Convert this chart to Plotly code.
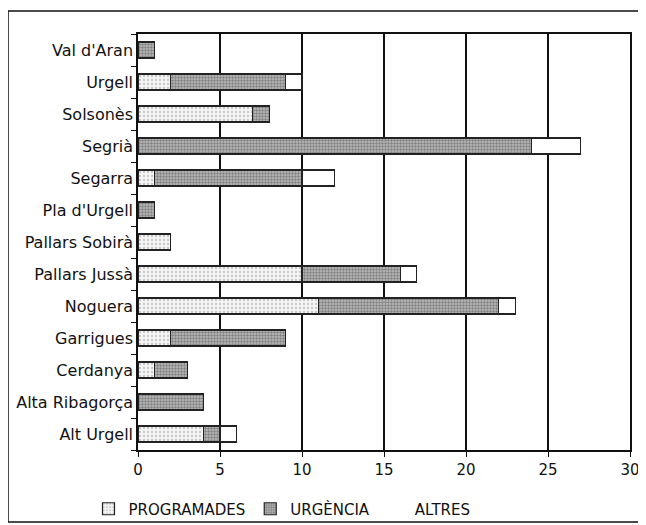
import plotly.graph_objects as go

categories = ["Alt Urgell", "Alta Ribagorça", "Cerdanya", "Garrigues", "Noguera",
              "Pallars Jussà", "Pallars Sobirà", "Pla d'Urgell", "Segarra", "Segrià",
              "Solsonès", "Urgell", "Val d'Aran"]
programades = [4, 0, 1, 2, 11, 10, 2, 0, 1, 0, 7, 2, 0]
urgencia =    [1, 4, 2, 7, 11, 6, 0, 1, 9, 24, 1, 7, 1]
altres =      [1, 0, 0, 0, 1, 1, 0, 0, 2, 3, 0, 1, 0]
x_ticks = [0, 5, 10, 15, 20, 25, 30]

FONT = "DejaVu Sans"
OFF = 8  # page body margin
W, H = 646 - OFF, 525 - OFF
L = 138 - OFF
T = 34 - OFF
R = W - (630 - OFF)
B = H - (450 - OFF)
pw, ph = W - L - R, H - T - B


def px_x(x):
    return (x - OFF - L) / pw


def px_y(y):
    return 1 - (y - OFF - T) / ph


fig = go.Figure()
fig.add_trace(go.Bar(
    y=categories, x=programades, orientation="h", name="PROGRAMADES",
    marker=dict(color="#f2f2f2", line=dict(color="#222", width=1.2),
                pattern=dict(shape=".", fgcolor="#9a9a9a", bgcolor="#f4f4f4", size=4, solidity=0.25)),
))
fig.add_trace(go.Bar(
    y=categories, x=urgencia, orientation="h", name="URGÈNCIA",
    marker=dict(color="#a0a0a0", line=dict(color="#222", width=1.2),
                pattern=dict(shape=".", fgcolor="#444", bgcolor="#bdbdbd", size=3, solidity=0.5)),
))
fig.add_trace(go.Bar(
    y=categories, x=altres, orientation="h", name="ALTRES", showlegend=False,
    marker=dict(color="white", line=dict(color="#222", width=1.2)),
))
fig.add_trace(go.Bar(
    y=[None], x=[None], orientation="h", name="ALTRES",
    marker=dict(color="rgba(0,0,0,0)", line=dict(width=0)),
))

fig.update_layout(
    width=W, height=H,
    margin=dict(l=L, r=R, t=T, b=B, autoexpand=False),
    paper_bgcolor="white", plot_bgcolor="white",
    barmode="stack", bargap=0.5,
    font=dict(family=FONT, size=15, color="#111"),
    legend=dict(orientation="h", x=px_x(282), y=px_y(509),
                xanchor="center", yanchor="middle", traceorder="normal",
                bgcolor="rgba(0,0,0,0)",
                font=dict(family=FONT, size=15, color="#111"),
                itemwidth=30, tracegroupgap=0),
    xaxis=dict(range=[0, 30], tickvals=x_ticks, showgrid=True, gridcolor="#111",
               gridwidth=1.5, zeroline=False, showline=True, linecolor="#111",
               linewidth=1.5, ticks="outside", ticklen=5, tickcolor="#111",
               tickfont=dict(size=15), mirror=True, automargin=False),
    yaxis=dict(type="category", categoryorder="array", categoryarray=categories,
               showline=True, linecolor="#111", linewidth=1.5, mirror=True,
               ticks="outside", ticklen=5, tickson="boundaries", tickcolor="#111",
               showgrid=False, tickfont=dict(size=16), automargin=False),
    shapes=[dict(type="rect", xref="paper", yref="paper",
                 x0=px_x(8), x1=px_x(641),
                 y0=px_y(522), y1=px_y(11),
                 line=dict(color="#111", width=1.5), fillcolor="rgba(0,0,0,0)", layer="below")],
)

fig.write_html("out.html")
